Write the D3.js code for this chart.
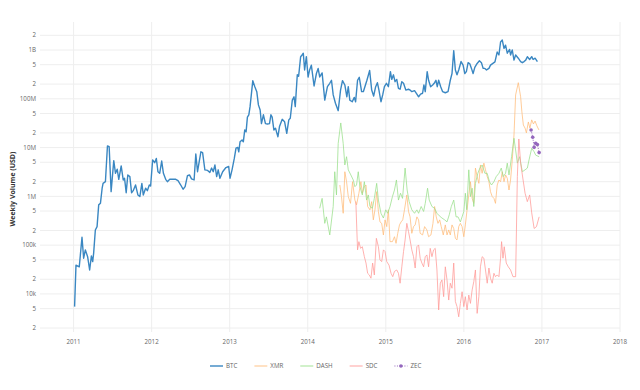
<!DOCTYPE html>
<html><head><meta charset="utf-8">
<script src="https://cdn.jsdelivr.net/npm/d3@7"></script>
<style>body{margin:0;background:#fff}svg{display:block;font-family:"Open Sans",sans-serif}</style>
</head><body><svg id="c" width="640" height="390"></svg>
<script>
// ---- data (time in decimal years, weekly volume in USD) ----
const btcT=[2011.013,2011.031,2011.073,2011.108,2011.129,2011.151,2011.180,2011.206,2011.228,2011.245,2011.257,2011.279,2011.301,2011.322,2011.344,2011.366,2011.378,2011.408,2011.434,2011.456,2011.481,2011.515,2011.537,2011.559,2011.579,2011.610,2011.636,2011.653,2011.674,2011.695,2011.721,2011.743,2011.764,2011.794,2011.824,2011.849,2011.875,2011.893,2011.923,2011.945,2011.970,2011.987,
2012.013,2012.039,2012.060,2012.081,2012.103,2012.129,2012.151,2012.180,2012.202,2012.232,2012.266,2012.309,2012.338,2012.373,2012.403,2012.429,2012.459,2012.485,2012.511,2012.544,2012.566,2012.588,2012.609,2012.631,2012.653,2012.682,2012.717,2012.746,2012.768,2012.789,2012.811,2012.833,2012.853,2012.875,2012.910,2012.952,2012.987,
2013.004,2013.030,2013.059,2013.081,2013.103,2013.116,2013.133,2013.158,2013.175,2013.193,2013.210,2013.227,2013.245,2013.261,2013.296,2013.322,2013.347,2013.368,2013.390,2013.407,2013.432,2013.458,2013.484,2013.510,2013.528,2013.544,2013.566,2013.587,2013.605,2013.618,2013.638,2013.673,2013.703,2013.731,2013.757,2013.776,2013.802,2013.824,2013.840,2013.866,2013.883,2013.909,2013.927,2013.943,2013.960,2013.982,
2014.004,2014.024,2014.046,2014.081,2014.111,2014.133,2014.153,2014.184,2014.218,2014.252,2014.282,2014.304,2014.326,2014.355,2014.390,2014.420,2014.445,2014.475,2014.501,2014.519,2014.539,2014.570,2014.596,2014.613,2014.638,2014.660,2014.690,2014.712,2014.732,2014.758,2014.793,2014.819,2014.844,2014.870,2014.892,2014.912,2014.938,2014.960,2014.982,
2015.008,2015.033,2015.059,2015.076,2015.098,2015.118,2015.140,2015.162,2015.183,2015.205,2015.227,2015.256,2015.291,2015.311,2015.333,2015.368,2015.398,2015.420,2015.445,2015.471,2015.488,2015.505,2015.530,2015.548,2015.574,2015.600,2015.625,2015.642,2015.659,2015.677,2015.703,2015.728,2015.762,2015.797,2015.826,2015.848,2015.870,2015.891,2015.912,2015.934,2015.964,2015.990,
2016.012,2016.032,2016.054,2016.076,2016.097,2016.118,2016.140,2016.170,2016.199,2016.225,2016.247,2016.269,2016.290,2016.321,2016.341,2016.363,2016.398,2016.427,2016.449,2016.470,2016.492,2016.514,2016.534,2016.556,2016.586,2016.598,2016.620,2016.642,2016.663,2016.697,2016.727,2016.749,2016.771,2016.792,2016.813,2016.843,2016.869,2016.887,2016.912,2016.942];
const btcV=[5.5e3,3.9e4,3.6e4,1.45e5,5.4e4,8.0e4,5.8e4,3.1e4,6.0e4,4.6e4,6.8e4,2.05e5,2.4e5,6.7e5,7.2e5,1.47e6,1.85e6,2.0e6,1.08e7,1.04e7,1.25e6,5.4e6,2.97e6,3.6e6,2.24e6,4.2e6,2.17e6,2.35e6,1.19e6,2.75e6,2.54e6,1.19e6,1.31e6,1.71e6,1.07e6,9.9e5,1.85e6,1.07e6,1.47e6,1.31e6,1.71e6,1.63e6,
5.6e6,4.9e6,6.0e6,3.2e6,2.97e6,5.3e6,2.97e6,2.24e6,2.0e6,2.24e6,2.24e6,2.24e6,2.1e6,1.71e6,1.40e6,1.58e6,2.65e6,2.75e6,2.28e6,2.17e6,7.4e6,3.2e6,5.1e6,8.2e6,7.9e6,3.5e6,3.4e6,3.1e6,3.8e6,3.2e6,4.4e6,2.54e6,3.5e6,2.35e6,3.2e6,3.9e6,4.1e6,
2.35e6,3.5e6,6.0e6,9.7e6,1.01e7,8.2e6,1.32e7,1.43e7,1.32e7,2.3e7,2.1e7,4.2e7,4.7e7,6.9e7,2.35e8,1.77e8,1.40e8,7.5e7,5.9e7,3.1e7,4.7e7,3.1e7,3.05e7,3.1e7,4.7e7,4.2e7,2.3e7,2.5e7,1.96e7,1.67e7,2.7e7,3.8e7,3.4e7,1.96e7,3.7e7,4.0e7,9.4e7,1.10e8,6.9e7,3.1e8,2.9e8,7.3e8,7.9e8,8.6e8,3.9e8,7.3e8,
2.8e8,3.9e8,4.9e8,1.83e8,3.3e8,4.2e8,2.8e8,3.4e8,9.4e7,1.77e8,2.08e8,2.4e8,1.20e8,8.1e7,5.7e7,1.51e8,2.35e8,1.92e8,1.10e8,1.77e8,9.4e7,8.7e7,1.07e8,8.7e7,2.4e8,2.76e8,1.40e8,1.40e8,1.77e8,2.4e8,3.8e8,1.51e8,1.14e8,1.77e8,2.14e8,1.51e8,8.7e7,1.20e8,1.77e8,
2.08e8,1.77e8,3.6e8,2.5e8,3.1e8,2.24e8,2.5e8,1.64e8,1.57e8,2.24e8,2.08e8,1.51e8,1.57e8,1.51e8,1.40e8,1.47e8,1.25e8,1.10e8,1.25e8,1.30e8,1.92e8,1.40e8,3.6e8,2.4e8,1.77e8,1.92e8,2.14e8,2.4e8,1.77e8,2.4e8,1.77e8,1.40e8,1.33e8,1.40e8,2.4e8,3.3e8,9.7e8,3.9e8,3.1e8,3.9e8,5.8e8,4.9e8,
3.3e8,3.6e8,5.5e8,5.2e8,4.2e8,3.3e8,4.4e8,5.3e8,6.0e8,5.5e8,4.2e8,4.2e8,3.9e8,4.2e8,4.9e8,5.2e8,5.7e8,9.1e8,7.9e8,1.46e9,1.60e9,1.08e9,1.26e9,8.6e8,1.03e9,7.9e8,1.0e9,6.2e8,7.9e8,6.8e8,5.8e8,5.5e8,5.8e8,6.2e8,7.3e8,6.4e8,7.3e8,6.4e8,6.8e8,5.8e8];

const xmrT=[2014.411,2014.432,2014.454,2014.475,2014.497,2014.519,2014.548,2014.574,2014.604,2014.625,2014.655,2014.681,2014.699,2014.725,2014.746,2014.767,2014.797,2014.819,2014.840,2014.861,2014.883,2014.905,2014.925,2014.947,2014.969,2014.990,
2015.012,2015.033,2015.054,2015.085,2015.111,2015.131,2015.153,2015.175,2015.196,2015.217,2015.239,2015.269,2015.291,2015.311,2015.333,2015.355,2015.376,2015.398,2015.420,2015.440,2015.471,2015.497,2015.526,2015.548,2015.578,2015.604,2015.625,2015.646,2015.668,2015.690,2015.710,2015.736,2015.762,2015.784,2015.806,2015.826,2015.848,2015.870,2015.891,2015.912,2015.934,2015.955,2015.977,2015.999,
2016.019,2016.041,2016.063,2016.084,2016.106,2016.127,2016.148,2016.170,2016.192,2016.212,2016.234,2016.256,2016.277,2016.299,2016.321,2016.341,2016.363,2016.385,2016.405,2016.427,2016.449,2016.470,2016.492,2016.514,2016.534,2016.556,2016.578,2016.598,2016.620,2016.642,2016.663,2016.697,2016.727,2016.743,2016.762,2016.784,2016.801,2016.826,2016.846,2016.869,2016.891,2016.912,2016.935,2016.961];
const xmrV=[1.71e6,9.9e5,4.5e5,3.2e6,2.0e6,9.9e5,7.2e5,2.0e6,8.4e5,6.7e5,1.16e6,2.0e6,1.16e6,1.58e6,1.71e6,6.2e5,5.3e5,7.8e5,3.3e5,5.3e5,1.25e6,4.9e5,3.0e5,2.8e5,1.62e5,3.3e5,
2.4e5,5.3e5,1.18e5,1.18e5,1.49e5,1.09e5,1.75e5,2.6e5,3.0e5,3.3e5,5.3e5,1.07e6,4.9e5,3.8e5,1.75e5,2.4e5,2.6e5,3.8e5,3.3e5,1.75e5,1.62e5,2.4e5,2.05e5,1.49e5,1.62e5,2.8e5,6.2e5,3.8e5,2.8e5,3.3e5,2.4e5,1.62e5,2.6e5,1.62e5,2.05e5,1.62e5,2.6e5,2.2e5,1.38e5,1.28e5,2.4e5,2.8e5,2.4e5,1.49e5,
2.6e5,5.3e5,1.07e6,2.0e6,9.1e5,7.2e5,3.8e6,2.54e6,1.85e6,4.4e6,2.97e6,4.8e6,3.5e6,2.54e6,2.0e6,1.25e6,9.9e5,9.1e5,7.2e5,1.71e6,2.17e6,2.0e6,3.2e6,2.0e6,2.75e6,2.35e6,1.35e6,2.17e6,5.6e6,1.81e7,1.20e8,2.14e8,1.10e8,5.4e7,2.9e7,2.5e7,2.0e7,3.35e7,2.5e7,3.7e7,3.05e7,3.5e7,2.8e7,2.3e7];

const dashT=[2014.153,2014.184,2014.218,2014.239,2014.282,2014.326,2014.346,2014.368,2014.390,2014.423,2014.454,2014.475,2014.497,2014.519,2014.552,2014.583,2014.604,2014.625,2014.647,2014.668,2014.699,2014.725,2014.754,2014.776,2014.797,2014.828,2014.853,2014.883,2014.905,2014.938,2014.969,2014.999,
2015.024,2015.054,2015.085,2015.111,2015.136,2015.162,2015.188,2015.214,2015.247,2015.273,2015.299,2015.333,2015.368,2015.398,2015.420,2015.453,2015.484,2015.505,2015.535,2015.556,2015.591,2015.625,2015.655,2015.685,2015.719,2015.754,2015.784,2015.813,2015.839,2015.870,2015.900,2015.925,2015.955,2015.977,2015.999,
2016.019,2016.037,2016.063,2016.084,2016.106,2016.127,2016.148,2016.179,2016.205,2016.234,2016.269,2016.299,2016.328,2016.354,2016.385,2016.414,2016.449,2016.479,2016.504,2016.534,2016.556,2016.578,2016.611,2016.642,2016.663,2016.685,2016.714,2016.749,2016.784,2016.813,2016.835,2016.869,2016.900,2016.920,2016.964];
const dashV=[5.7e5,9.1e5,2.8e5,3.8e5,1.62e5,6.2e5,3.2e6,1.07e6,1.22e7,3.2e7,1.22e7,4.4e6,6.5e6,3.5e6,2.75e6,2.17e6,1.58e6,1.71e6,3.2e6,1.58e6,1.07e6,2.0e6,8.4e5,1.07e6,6.2e5,5.7e5,9.1e5,1.85e6,8.4e5,4.5e5,3.6e5,5.3e5,
4.5e5,6.2e5,9.9e5,1.35e6,2.17e6,8.4e5,1.16e6,9.1e5,3.8e6,1.35e6,7.8e5,5.3e5,4.5e5,5.3e5,4.5e5,6.2e5,4.9e5,7.2e5,1.47e6,8.4e5,6.2e5,5.7e5,4.5e5,4.0e5,3.6e5,3.3e5,3.0e5,4.2e5,6.2e5,8.4e5,3.8e5,3.8e5,3.0e5,3.8e5,4.9e5,
1.16e6,5.3e5,3.5e6,9.9e5,1.47e6,6.2e5,1.85e6,2.97e6,3.8e6,4.4e6,2.97e6,2.97e6,2.0e6,1.71e6,2.0e6,2.54e6,2.97e6,3.8e6,2.54e6,2.97e6,4.8e6,2.75e6,6.5e6,1.55e7,8.9e6,4.8e6,6.5e6,3.2e6,3.5e6,3.8e6,5.6e6,9.7e6,8.2e6,7.0e6,6.5e6];

const sdcT=[2014.616,2014.638,2014.655,2014.677,2014.699,2014.725,2014.746,2014.767,2014.789,2014.810,2014.831,2014.853,2014.879,2014.905,2014.925,2014.947,2014.969,2014.990,
2015.012,2015.041,2015.067,2015.089,2015.111,2015.140,2015.162,2015.183,2015.205,2015.227,2015.247,2015.269,2015.291,2015.311,2015.333,2015.355,2015.376,2015.398,2015.420,2015.440,2015.462,2015.484,2015.505,2015.526,2015.548,2015.569,2015.591,2015.612,2015.633,2015.655,2015.677,2015.698,2015.719,2015.741,2015.762,2015.784,2015.806,2015.826,2015.848,2015.870,2015.891,2015.912,2015.934,2015.955,2015.977,2015.999,
2016.019,2016.041,2016.063,2016.084,2016.106,2016.127,2016.148,2016.170,2016.192,2016.212,2016.234,2016.256,2016.277,2016.299,2016.321,2016.341,2016.363,2016.385,2016.405,2016.427,2016.449,2016.470,2016.483,2016.501,2016.517,2016.543,2016.569,2016.598,2016.629,2016.663,2016.685,2016.704,2016.727,2016.749,2016.784,2016.813,2016.843,2016.869,2016.900,2016.930,2016.964];
const sdcV=[7.8e5,8.0e4,1.18e5,8.6e4,9.3e4,5.8e4,4.3e4,2.65e4,2.45e4,2.1e4,4.3e4,2.45e4,1.38e5,9.3e4,5.0e4,4.6e4,8.0e4,7.4e4,
4.6e4,3.9e4,2.65e4,2.26e4,2.9e4,3.1e4,2.65e4,1.66e4,3.6e4,7.4e4,1.28e5,2.8e5,1.89e5,1.28e5,8.0e4,5.8e4,3.4e4,9.3e4,1.01e5,5.4e4,4.3e4,3.6e4,5.8e4,6.3e4,3.6e4,8.6e4,5.8e4,8.0e4,8.6e4,3.1e4,4.7e3,1.66e4,1.94e4,8.8e3,3.6e4,1.94e4,7.5e3,1.66e4,1.31e4,4.3e4,7.0e3,5.5e3,3.4e3,6.4e3,1.11e4,5.5e3,
8.8e3,4.7e3,9.5e3,6.4e3,1.21e4,1.79e4,3.1e4,4.0e3,8.8e3,3.6e4,5.8e4,5.4e4,3.1e4,1.66e4,3.4e4,2.1e4,1.66e4,2.65e4,2.26e4,2.45e4,2.26e4,5.4e4,1.18e5,5.4e4,9.3e4,4.3e4,3.6e4,3.1e4,2.26e4,2.26e4,2.54e6,1.50e7,4.8e6,2.75e6,1.16e6,7.8e5,1.07e6,4.6e5,2.2e5,2.4e5,3.8e5];

const zecT=[2016.861,2016.882,2016.900,2016.920,2016.942,2016.964];
const zecV=[2.3e7,1.63e7,1.01e7,1.22e7,1.15e7,7.9e6];

const names=["BTC","XMR","DASH","SDC","ZEC"];
const yearTicks=[2011,2012,2013,2014,2015,2016,2017,2018];

// ---- layout / styles ----
const colors={BTC:"#3a87c2",XMR:"#ffbb78",DASH:"#98df8a",SDC:"#ff9896",ZEC:"#9467bd"};
const widths={BTC:1.4,XMR:1,DASH:1,SDC:1,ZEC:1};
const opac={BTC:1,XMR:0.75,DASH:0.75,SDC:0.75,ZEC:1};
const L=40,R=620,T=22,B=332;

const svg=d3.select("#c");
const x=d3.scaleLinear().domain([2010.57,2018.0]).range([L,R]);
const y=d3.scaleLog().domain([1660,3.75e9]).range([B,T]);

// y ticks: 2,5,10 per decade
const yTicks=[];
for(let e=3;e<=9;e++){[1,2,5].forEach(m=>{const v=m*Math.pow(10,e);if(v>=y.domain()[0]&&v<=y.domain()[1])yTicks.push(v);});}
yTicks.sort((a,b)=>a-b);
const fmtS=d3.format("~s");
const yLabel=v=>{const lead=Math.round(v/Math.pow(10,Math.floor(Math.log10(v)+1e-9)));return lead===1?fmtS(v).replace("G","B"):String(lead);};

const grid=svg.append("g");
grid.selectAll("line.h").data(yTicks).join("line")
  .attr("x1",L).attr("x2",R).attr("y1",d=>y(d)).attr("y2",d=>y(d))
  .attr("stroke","#eeeeee").attr("stroke-width",1);
grid.selectAll("line.v").data(yearTicks).join("line")
  .attr("x1",d=>x(d)).attr("x2",d=>x(d)).attr("y1",T).attr("y2",B)
  .attr("stroke","#eeeeee").attr("stroke-width",1);

svg.append("g").selectAll("text").data(yTicks).join("text")
  .attr("x",L-4).attr("y",d=>y(d)).attr("dy","0.35em").attr("text-anchor","end")
  .attr("font-size",6.2).attr("fill","#666").text(yLabel);

svg.append("g").selectAll("text").data(yearTicks).join("text")
  .attr("x",d=>x(d)).attr("y",B+12).attr("text-anchor","middle")
  .attr("font-size",6.2).attr("fill","#666").text(d3.format("d"));

svg.append("text").attr("transform",`translate(15,189) rotate(-90)`)
  .attr("text-anchor","middle").attr("font-size",7).attr("font-weight","bold")
  .attr("fill","#333").text("Weekly Volume (USD)");

// series
const series={BTC:[btcT,btcV],XMR:[xmrT,xmrV],DASH:[dashT,dashV],SDC:[sdcT,sdcV],ZEC:[zecT,zecV]};
const line=d3.line().x(d=>x(d[0])).y(d=>y(d[1]));
const plot=svg.append("g");
names.forEach(n=>{
  const [t,v]=series[n];
  const pts=t.map((d,i)=>[d,v[i]]);
  const p=plot.append("path").datum(pts).attr("d",line).attr("fill","none")
    .attr("stroke",colors[n]).attr("stroke-width",widths[n]).attr("stroke-opacity",opac[n])
    .attr("stroke-linejoin","round");
  if(n==="ZEC"){
    p.attr("stroke-dasharray","1,1.5");
    plot.append("g").selectAll("circle").data(pts).join("circle")
      .attr("cx",d=>x(d[0])).attr("cy",d=>y(d[1])).attr("r",1.8).attr("fill",colors[n]);
  }
});

// legend
const lg=svg.append("g");
let lx=210;const ly=366;
names.forEach(n=>{
  const g=lg.append("g");
  g.append("line").attr("x1",lx).attr("x2",lx+13).attr("y1",ly).attr("y2",ly)
    .attr("stroke",colors[n]).attr("stroke-width",n==="BTC"?1.4:1.2)
    .attr("stroke-opacity",opac[n])
    .attr("stroke-dasharray",n==="ZEC"?"1,1.5":null);
  if(n==="ZEC")g.append("circle").attr("cx",lx+6.5).attr("cy",ly).attr("r",1.8).attr("fill",colors[n]);
  const t=g.append("text").attr("x",lx+16).attr("y",ly).attr("dy","0.35em")
    .attr("font-size",6.2).attr("fill","#666").text(n);
  lx+=16+t.node().getComputedTextLength()+17;
});
</script></body></html>
